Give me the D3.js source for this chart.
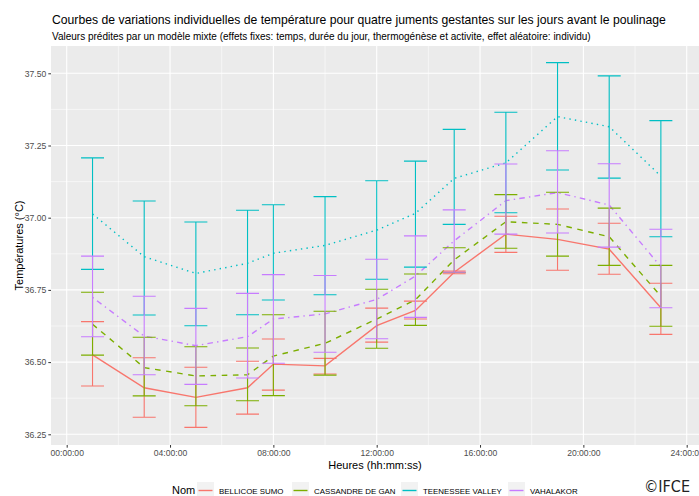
<!DOCTYPE html>
<html>
<head>
<meta charset="utf-8">
<script src="https://cdn.jsdelivr.net/npm/d3@7"></script>
<style>
  body { margin: 0; background: #fff; }
  svg { font-family: "Liberation Sans", Arial, sans-serif; }
</style>
</head>
<body>
<div id="vis"></div>
<script>
// Constants for the chart
const FRAME_WIDTH = 699;
const FRAME_HEIGHT = 496;
const PANEL = {left: 51, right: 699, top: 46, bottom: 445};

// data (hours after midnight)
const HOURS = [1, 3, 5, 7, 8, 10, 12, 13.5, 15, 17, 19, 21, 23];
const NAMES = ["BELLICOE SUMO", "CASSANDRE DE GAN", "TEENESSEE VALLEY", "VAHALAKOR"];
const COLORS = ["#F8766D", "#7CAE00", "#00BFC4", "#C77CFF"];
const DASHES = [null, "5.6,5.6", "1.4,4.2", "1.4,4.2,5.6,4.2"];

const BELLICOE_FIT  = [36.525, 36.411, 36.378, 36.411, 36.493, 36.487, 36.626, 36.679, 36.811, 36.943, 36.925, 36.891, 36.688];
const BELLICOE_LOW  = [36.417, 36.309, 36.274, 36.320, 36.403, 36.459, 36.569, 36.649, 36.806, 36.880, 36.818, 36.804, 36.596];
const BELLICOE_HIGH = [36.640, 36.515, 36.482, 36.503, 36.580, 36.513, 36.687, 36.711, 36.815, 37.005, 37.030, 36.981, 36.773];

const CASSANDRE_FIT  = [36.631, 36.481, 36.452, 36.456, 36.521, 36.565, 36.649, 36.716, 36.854, 36.986, 36.977, 36.934, 36.728];
const CASSANDRE_LOW  = [36.524, 36.383, 36.349, 36.366, 36.384, 36.455, 36.548, 36.627, 36.810, 36.894, 36.867, 36.835, 36.624];
const CASSANDRE_HIGH = [36.742, 36.586, 36.553, 36.549, 36.664, 36.676, 36.752, 36.805, 36.896, 37.080, 37.088, 37.033, 36.835];

const TEENESSEE_FIT  = [37.013, 36.865, 36.807, 36.842, 36.877, 36.904, 36.957, 37.015, 37.136, 37.190, 37.350, 37.315, 37.144];
const TEENESSEE_LOW  = [36.821, 36.663, 36.626, 36.664, 36.715, 36.733, 36.787, 36.829, 36.977, 37.017, 37.165, 37.137, 36.934];
const TEENESSEE_HIGH = [37.207, 37.058, 36.985, 37.026, 37.045, 37.073, 37.128, 37.196, 37.306, 37.365, 37.537, 37.491, 37.336];

const VAHALAKOR_FIT  = [36.724, 36.590, 36.557, 36.588, 36.649, 36.667, 36.717, 36.798, 36.920, 37.059, 37.087, 37.044, 36.830];
const VAHALAKOR_LOW  = [36.588, 36.456, 36.423, 36.445, 36.496, 36.534, 36.581, 36.655, 36.811, 36.943, 36.947, 36.898, 36.688];
const VAHALAKOR_HIGH = [36.867, 36.728, 36.686, 36.738, 36.803, 36.800, 36.856, 36.937, 37.027, 37.186, 37.232, 37.187, 36.960];

const X_TICKS = [0, 4, 8, 12, 16, 20, 24];
const X_LABELS = ["00:00:00", "04:00:00", "08:00:00", "12:00:00", "16:00:00", "20:00:00", "24:00:00"];
const Y_TICKS = [36.25, 36.50, 36.75, 37.00, 37.25, 37.50];

// build one table per mare
const FITS = [BELLICOE_FIT, CASSANDRE_FIT, TEENESSEE_FIT, VAHALAKOR_FIT];
const LOWS = [BELLICOE_LOW, CASSANDRE_LOW, TEENESSEE_LOW, VAHALAKOR_LOW];
const HIGHS = [BELLICOE_HIGH, CASSANDRE_HIGH, TEENESSEE_HIGH, VAHALAKOR_HIGH];
const SERIES = NAMES.map((name, i) => ({
    name: name,
    color: COLORS[i],
    dash: DASHES[i],
    points: HOURS.map((h, j) => ({h: h, fit: FITS[i][j], low: LOWS[i][j], high: HIGHS[i][j]}))
}));

const FRAME = d3.select("#vis")
    .append("svg")
    .attr("width", FRAME_WIDTH)
    .attr("height", FRAME_HEIGHT);

const X_SCALE = d3.scaleLinear().domain([0, 24]).range([66.7, 686.7]);
const Y_SCALE = d3.scaleLinear().domain([36.25, 37.5]).range([434.3, 73.3]);

// panel background
FRAME.append("rect")
    .attr("x", PANEL.left).attr("y", PANEL.top)
    .attr("width", PANEL.right - PANEL.left)
    .attr("height", PANEL.bottom - PANEL.top)
    .attr("fill", "#EBEBEB");

// minor grid
const Y_MINOR = Y_TICKS.slice(0, -1).map(v => v + 0.125);
const X_MINOR = X_TICKS.slice(0, -1).map(v => v + 2);
FRAME.selectAll("ymin").data(Y_MINOR).enter().append("line")
    .attr("x1", PANEL.left).attr("x2", PANEL.right)
    .attr("y1", d => Y_SCALE(d)).attr("y2", d => Y_SCALE(d))
    .attr("stroke", "#fff").attr("stroke-width", 0.55);
FRAME.selectAll("xmin").data(X_MINOR).enter().append("line")
    .attr("y1", PANEL.top).attr("y2", PANEL.bottom)
    .attr("x1", d => X_SCALE(d)).attr("x2", d => X_SCALE(d))
    .attr("stroke", "#fff").attr("stroke-width", 0.55);

// major grid
FRAME.selectAll("ymaj").data(Y_TICKS).enter().append("line")
    .attr("x1", PANEL.left).attr("x2", PANEL.right)
    .attr("y1", d => Y_SCALE(d)).attr("y2", d => Y_SCALE(d))
    .attr("stroke", "#fff").attr("stroke-width", 1.1);
FRAME.selectAll("xmaj").data(X_TICKS).enter().append("line")
    .attr("y1", PANEL.top).attr("y2", PANEL.bottom)
    .attr("x1", d => X_SCALE(d)).attr("x2", d => X_SCALE(d))
    .attr("stroke", "#fff").attr("stroke-width", 1.1);

// lines
const LINE = d3.line().x(d => X_SCALE(d.h)).y(d => Y_SCALE(d.fit));
SERIES.forEach(s => {
    FRAME.append("path")
        .datum(s.points)
        .attr("d", LINE)
        .attr("fill", "none")
        .attr("stroke", s.color)
        .attr("stroke-width", 1.4)
        .attr("stroke-dasharray", s.dash);
});

// error bars
const HALF = 11.5;
SERIES.forEach(s => {
    const g = FRAME.append("g").attr("stroke", s.color).attr("stroke-width", 1.1).attr("fill", "none");
    g.selectAll("path").data(s.points).enter().append("path")
        .attr("d", d => {
            const x = X_SCALE(d.h), y1 = Y_SCALE(d.high), y2 = Y_SCALE(d.low);
            return "M" + (x - HALF) + "," + y1 + "H" + (x + HALF) +
                   "M" + x + "," + y1 + "V" + y2 +
                   "M" + (x - HALF) + "," + y2 + "H" + (x + HALF);
        });
});

// axes
const xAxis = FRAME.append("g")
    .attr("transform", "translate(0," + PANEL.bottom + ")")
    .call(d3.axisBottom(X_SCALE).tickValues(X_TICKS).tickSize(2.7).tickPadding(2)
        .tickFormat((d, i) => X_LABELS[i]));
const yAxis = FRAME.append("g")
    .attr("transform", "translate(" + PANEL.left + ",0)")
    .call(d3.axisLeft(Y_SCALE).tickValues(Y_TICKS).tickSize(2.7).tickPadding(2)
        .tickFormat(d3.format(".2f")));
[xAxis, yAxis].forEach(a => {
    a.select(".domain").remove();
    a.selectAll(".tick line").attr("stroke", "#333333").attr("stroke-width", 1);
    a.selectAll(".tick text").attr("fill", "#4D4D4D").attr("font-size", "8.6px")
        .attr("font-family", "Liberation Sans, Arial, sans-serif");
});

// titles
FRAME.append("text").attr("x", 52).attr("y", 24)
    .attr("font-size", "12.2px").attr("fill", "#000")
    .text("Courbes de variations individuelles de température pour quatre juments gestantes sur les jours avant le poulinage");
FRAME.append("text").attr("x", 52).attr("y", 40)
    .attr("font-size", "10px").attr("fill", "#000")
    .text("Valeurs prédites par un modèle mixte (effets fixes: temps, durée du jour, thermogénèse et activite, effet aléatoire: individu)");
FRAME.append("text").attr("x", (PANEL.left + PANEL.right) / 2).attr("y", 469)
    .attr("text-anchor", "middle").attr("font-size", "11px")
    .text("Heures (hh:mm:ss)");
FRAME.append("text")
    .attr("transform", "translate(23," + ((PANEL.top + PANEL.bottom) / 2) + ") rotate(-90)")
    .attr("text-anchor", "middle").attr("font-size", "11px")
    .text("Températures (°C)");

// legend
const LEGEND = FRAME.append("g").attr("transform", "translate(0,490)");
LEGEND.append("text").attr("x", 172).attr("y", 4).attr("font-size", "11px").text("Nom");
const KEY_X = [197, 292, 401, 508];
SERIES.forEach((s, i) => {
    LEGEND.append("rect").attr("x", KEY_X[i]).attr("y", -8).attr("width", 17).attr("height", 17)
        .attr("fill", "#F2F2F2");
    LEGEND.append("line").attr("x1", KEY_X[i] + 1.5).attr("x2", KEY_X[i] + 15.5)
        .attr("y1", 0.5).attr("y2", 0.5)
        .attr("stroke", s.color).attr("stroke-width", 1.4);
    LEGEND.append("text").attr("x", KEY_X[i] + 22).attr("y", 3.5)
        .attr("font-size", "7.9px").text(s.name);
});

// copyright mark
FRAME.append("text").attr("x", 690).attr("y", 492).attr("text-anchor", "end")
    .attr("font-size", "16px").attr("fill", "#222")
    .attr("font-family", "DejaVu Sans Condensed, Liberation Sans Narrow, sans-serif")
    .text("©IFCE");
</script>
</body>
</html>
